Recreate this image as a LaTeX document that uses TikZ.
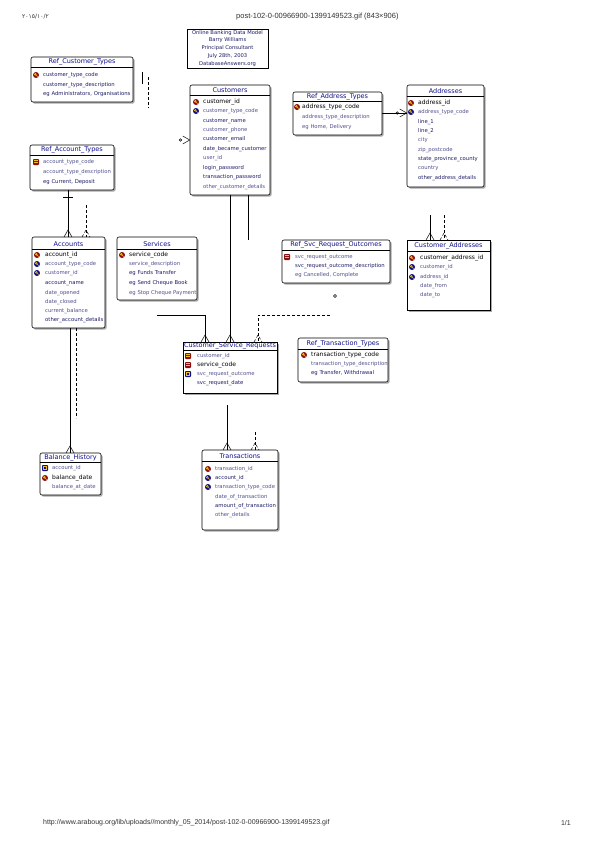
\documentclass[tikz,border=0pt]{standalone}
\usepackage{fontspec}
\setmainfont{Liberation Sans}
\newfontfamily\tabfont{DejaVu Sans}
\newfontfamily\arabicfont{DejaVu Sans}
\usetikzlibrary{fit,shadows}
\definecolor{ttlblue}{HTML}{10108A}
\definecolor{rownavy}{HTML}{1C1C66}
\definecolor{rowfaint}{HTML}{50508E}
\definecolor{pkred}{HTML}{8A1010}
\definecolor{fknavy}{HTML}{101080}
\definecolor{keyyel}{HTML}{F0C020}
\definecolor{shd}{HTML}{A8A8A8}
\definecolor{hdr}{HTML}{333333}
\tikzset{
 ent/.style={draw=black, line width=0.6pt, fill=white, inner sep=0pt, rounded corners=2pt,
   drop shadow={shadow xshift=1.6pt, shadow yshift=-1.6pt, fill=shd, opacity=1}},
 sqent/.style={ent, rounded corners=0pt, line width=0.8pt},
 ttl/.style={font=\tabfont\fontsize{6.5}{7}\selectfont, text=ttlblue, inner sep=0pt},
 pkrow/.style={font=\tabfont\fontsize{6}{7}\selectfont, text=black, anchor=west, inner sep=0pt},
 row/.style={font=\tabfont\fontsize{5.3}{6}\selectfont, text=rownavy, anchor=west, inner sep=0pt},
 frow/.style={row, text=rowfaint},
 sep/.style={draw=black, line width=0.4pt},
 conn/.style={draw=black, line width=0.5pt},
 dconn/.style={conn, dash pattern=on 3pt off 2pt},
 tbtext/.style={font=\tabfont\fontsize{5.2}{6}\selectfont, text=rownavy, inner sep=0pt},
}
\newcommand\pkic[2]{\fill[pkred] (#1,#2) circle (3);
  \draw[keyyel, line width=0.6pt] (#1-0.7,#2-0.7) circle (0.9) (#1-0.1,#2-0.1) -- (#1+1.6,#2+1.6);}
\newcommand\fkic[2]{\fill[fknavy] (#1,#2) circle (3);
  \draw[keyyel, line width=0.5pt] (#1-0.7,#2-0.7) circle (0.9) (#1-0.1,#2-0.1) -- (#1+1.6,#2+1.6);}
\newcommand\pfic[2]{\fill[pkred, rounded corners=0.8pt] (#1-3,#2-3) rectangle (#1+3,#2+3);
  \draw[keyyel, line width=0.5pt] (#1-2,#2-1.8) -- (#1+2,#2-1.8) (#1-2,#2+0.2) -- (#1+2,#2+0.2);}
\newcommand\fsqic[2]{\fill[fknavy, rounded corners=0.8pt] (#1-3,#2-3) rectangle (#1+3,#2+3);
  \draw[keyyel, line width=0.5pt] (#1-1.5,#2-1.5) rectangle (#1+1.5,#2+1.2);}
% crow's foot entering a box edge from above at (x,y)
\newcommand\crowtop[3][conn]{\draw[#1] (#2-4,#3) -- (#2,#3-7) -- (#2+4,#3);}
\begin{document}
\begin{tikzpicture}[x=1pt,y=-1pt]
\useasboundingbox (0,0) rectangle (596,843);
\fill[white] (0,0) rectangle (596,843);

% header and footer
\node[font=\arabicfont\fontsize{6}{7}\selectfont, text=hdr, anchor=west, inner sep=0pt] (date) at (22,17) {٢٠١٥/١٠/٢};
\node[font=\fontsize{7.5}{8}\selectfont, text=hdr, anchor=west, inner sep=0pt] (hdrt) at (236,17) {post-102-0-00966900-1399149523.gif (843×906)};
\node[font=\fontsize{7}{8}\selectfont, text=hdr, anchor=west, inner sep=0pt] (url) at (43,823) {http://www.araboug.org/lib/uploads//monthly\_05\_2014/post-102-0-00966900-1399149523.gif};
\node[font=\fontsize{7}{8}\selectfont, text=hdr, anchor=east, inner sep=0pt] (pg) at (571,823) {1/1};

% title box
\node[draw=black, line width=0.6pt, inner sep=0pt, fit={(187,29) (268,68)}] (tb) {};
\node[tbtext] (tb1) at (227.5,33) {Online Banking Data Model};
\node[tbtext] (tb2) at (227.5,40.5) {Barry Williams};
\node[tbtext] (tb3) at (227.5,48) {Principal Consultant};
\node[tbtext] (tb4) at (227.5,56) {July 28th, 2003};
\node[tbtext] (tb5) at (227.5,64) {DatabaseAnswers.org};

\coordinate (xa) at (68,0);
\coordinate (xb) at (86,0);
\coordinate (xc) at (230,0);
\coordinate (xd) at (248,0);
\coordinate (xe) at (430,0);
\coordinate (xf) at (444,0);
\coordinate (xi) at (227,0);
\coordinate (xj) at (255,0);
\coordinate (xk) at (70,0);
\coordinate (xl) at (76,0);

% ---------- entities ----------
% Ref_Customer_Types
\node[ent, fit={(31,57) (133,102)}] (rct) {};
\draw[sep] (rct.west |- 0,67) -- (rct.east |- 0,67);
\node[ttl] (rct-t) at (rct.center |- 0,62) {Ref\_Customer\_Types};
\pkic{36}{75}\node[row] (rct-1) at (43,75) {customer\_type\_code};
\node[row] (rct-2) at (43,85) {customer\_type\_description};
\node[row] (rct-3) at (43,94) {eg Administrators, Organisations};

% Customers
\node[ent, fit={(190,85) (270,195)}] (cust) {};
\draw[sep] (cust.west |- 0,95) -- (cust.east |- 0,95);
\node[ttl] (cust-t) at (cust.center |- 0,90) {Customers};
\pkic{196}{102}\node[pkrow] (cust-1) at (203,102) {customer\_id};
\fkic{196}{111}\node[frow] (cust-2) at (203,111) {customer\_type\_code};
\node[row] (cust-3) at (203,121) {customer\_name};
\node[frow] (cust-4) at (203,130) {customer\_phone};
\node[row] (cust-5) at (203,139) {customer\_email};
\node[row] (cust-6) at (203,149) {date\_became\_customer};
\node[frow] (cust-7) at (203,158) {user\_id};
\node[row] (cust-8) at (203,168) {login\_password};
\node[row] (cust-9) at (203,177) {transaction\_password};
\node[frow] (cust-10) at (203,187) {other\_customer\_details};

% Ref_Address_Types
\node[ent, fit={(293,92) (382,135)}] (rat) {};
\draw[sep] (rat.west |- 0,101.5) -- (rat.east |- 0,101.5);
\node[ttl] (rat-t) at (rat.center |- 0,97) {Ref\_Address\_Types};
\pkic{297}{107}\node[pkrow] (rat-1) at (302,107) {address\_type\_code};
\node[frow] (rat-2) at (302,117) {address\_type\_description};
\node[frow] (rat-3) at (302,127) {eg Home, Delivery};

% Addresses
\node[ent, fit={(407,85) (484,187)}] (addr) {};
\draw[sep] (addr.west |- 0,96) -- (addr.east |- 0,96);
\node[ttl] (addr-t) at (addr.center |- 0,91) {Addresses};
\pkic{411}{103}\node[pkrow] (addr-1) at (418,103) {address\_id};
\fkic{411}{112}\node[frow] (addr-2) at (418,112) {address\_type\_code};
\node[row] (addr-3) at (418,122) {line\_1};
\node[row] (addr-4) at (418,131) {line\_2};
\node[frow] (addr-5) at (418,140) {city};
\node[frow] (addr-6) at (418,150) {zip\_postcode};
\node[row] (addr-7) at (418,159) {state\_province\_county};
\node[frow] (addr-8) at (418,168) {country};
\node[row] (addr-9) at (418,178) {other\_address\_details};

% Ref_Account_Types
\node[ent, fit={(30,145) (114,190)}] (ratp) {};
\draw[sep] (ratp.west |- 0,155) -- (ratp.east |- 0,155);
\node[ttl] (ratp-t) at (ratp.center |- 0,150) {Ref\_Account\_Types};
\pfic{36}{162}\node[frow] (ratp-1) at (43,162) {account\_type\_code};
\node[frow] (ratp-2) at (43,172) {account\_type\_description};
\node[row] (ratp-3) at (43,182) {eg Current, Deposit};

% Accounts
\node[ent, fit={(32,237) (105,328)}] (acc) {};
\draw[sep] (acc.west |- 0,249) -- (acc.east |- 0,249);
\node[ttl] (acc-t) at (acc.center |- 0,244) {Accounts};
\pkic{37}{255}\node[pkrow] (acc-1) at (45,255) {account\_id};
\fkic{37}{264}\node[frow] (acc-2) at (45,264) {account\_type\_code};
\fkic{37}{273}\node[frow] (acc-3) at (45,273) {customer\_id};
\node[row] (acc-4) at (45,283) {account\_name};
\node[frow] (acc-5) at (45,293) {date\_opened};
\node[frow] (acc-6) at (45,302) {date\_closed};
\node[frow] (acc-7) at (45,311) {current\_balance};
\node[row] (acc-8) at (45,320) {other\_account\_details};

% Services
\node[ent, fit={(117,237) (197,300)}] (serv) {};
\draw[sep] (serv.west |- 0,249) -- (serv.east |- 0,249);
\node[ttl] (serv-t) at (serv.center |- 0,244) {Services};
\pkic{122}{255}\node[pkrow] (serv-1) at (129,255) {service\_code};
\node[frow] (serv-2) at (129,264) {service\_description};
\node[row] (serv-3) at (129,273) {eg Funds Transfer};
\node[row] (serv-4) at (129,283) {eg Send Cheque Book};
\node[frow] (serv-5) at (129,293) {eg Stop Cheque Payment};

% Ref_Svc_Request_Outcomes
\node[ent, fit={(282,240) (390,283)}] (rsro) {};
\draw[sep] (rsro.west |- 0,250) -- (rsro.east |- 0,250);
\node[ttl] (rsro-t) at (rsro.center |- 0,245) {Ref\_Svc\_Request\_Outcomes};
\pfic{287}{257}\node[frow] (rsro-1) at (295,257) {svc\_request\_outcome};
\node[row] (rsro-2) at (295,266) {svc\_request\_outcome\_description};
\node[frow] (rsro-3) at (295,275) {eg Cancelled, Complete};

% Customer_Addresses
\node[sqent, fit={(407,240) (490,310)}] (cad) {};
\draw[sep] (cad.west |- 0,251) -- (cad.east |- 0,251);
\node[ttl] (cad-t) at (cad.center |- 0,246) {Customer\_Addresses};
\pkic{412}{258}\node[pkrow] (cad-1) at (420,258) {customer\_address\_id};
\fkic{412}{267}\node[frow] (cad-2) at (420,267) {customer\_id};
\fkic{412}{277}\node[frow] (cad-3) at (420,277) {address\_id};
\node[frow] (cad-4) at (420,286) {date\_from};
\node[frow] (cad-5) at (420,295) {date\_to};

% Customer_Service_Requests
\node[sqent, fit={(183,342) (277,393)}] (csr) {};
\draw[sep] (csr.west |- 0,350) -- (csr.east |- 0,350);
\node[ttl] (csr-t) at (csr.center |- 0,345.5) {Customer\_Service\_Requests};
\pfic{188}{356}\node[frow] (csr-1) at (197,356) {customer\_id};
\pfic{188}{365}\node[pkrow] (csr-2) at (197,365) {service\_code};
\fsqic{188}{374}\node[frow] (csr-3) at (197,374) {svc\_request\_outcome};
\node[row] (csr-4) at (197,383) {svc\_request\_date};

% Ref_Transaction_Types
\node[ent, fit={(298,338) (388,382)}] (rtt) {};
\draw[sep] (rtt.west |- 0,349) -- (rtt.east |- 0,349);
\node[ttl] (rtt-t) at (rtt.center |- 0,344) {Ref\_Transaction\_Types};
\pkic{304}{355}\node[pkrow] (rtt-1) at (311,355) {transaction\_type\_code};
\node[frow] (rtt-2) at (311,364) {transaction\_type\_description};
\node[row] (rtt-3) at (311,373) {eg Transfer, Withdrawal};

% Balance_History
\node[ent, fit={(40,453) (101,495)}] (bh) {};
\draw[sep] (bh.west |- 0,462) -- (bh.east |- 0,462);
\node[ttl] (bh-t) at (bh.center |- 0,457.5) {Balance\_History};
\fsqic{45}{468}\node[frow] (bh-1) at (52,468) {account\_id};
\pkic{45}{478}\node[pkrow] (bh-2) at (52,478) {balance\_date};
\node[frow] (bh-3) at (52,487) {balance\_at\_date};

% Transactions
\node[ent, fit={(202,450) (278,530)}] (tr) {};
\draw[sep] (tr.west |- 0,461) -- (tr.east |- 0,461);
\node[ttl] (tr-t) at (tr.center |- 0,456) {Transactions};
\pkic{208}{469}\node[frow] (tr-1) at (215,469) {transaction\_id};
\fkic{208}{478}\node[row] (tr-2) at (215,478) {account\_id};
\fkic{208}{487}\node[frow] (tr-3) at (215,487) {transaction\_type\_code};
\node[frow] (tr-4) at (215,497) {date\_of\_transaction};
\node[row] (tr-5) at (215,506) {amount\_of\_transaction};
\node[frow] (tr-6) at (215,515) {other\_details};

% ---------- connectors ----------
% Ref_Customer_Types -> Customers
\coordinate (c1a) at (142,72); \coordinate (c1b) at (142,84);
\coordinate (c1c) at (148,77); \coordinate (c1d) at (148,108);
\draw[conn] (c1a) -- (c1b);
\draw[dconn] (c1c) -- (c1d);
\coordinate (cf1) at (183,140);
\draw[conn] (cust.west |- cf1) -- ++(-7,-4) (cust.west |- cf1) -- ++(-7,4);
\draw[conn] (cf1) ++(-2.5,0) circle (1.3);
% Ref_Account_Types -> Accounts
\draw[conn] (ratp.south -| xa) -- (acc.north -| xa);
\draw[conn] ([xshift=-5pt]ratp.south -| xa) ++(0,7) -- ++(10,0);
\crowtop{68}{237}
\coordinate (c2a) at (86,205);
\draw[dconn] (c2a) -- (acc.north -| xb);
\crowtop[dconn]{86}{237}
% Accounts -> Balance_History
\draw[conn] (acc.south -| xk) -- (bh.north -| xk);
\draw[dconn] (acc.south -| xl) -- ++(0,90);
\crowtop{70}{453}
% Customers -> CSR
\draw[conn] (cust.south -| xc) -- (csr.north -| xc);
\crowtop{230}{342}
\draw[conn] (cust.south -| xd) -- ++(0,45);
% Services -> CSR
\coordinate (c3a) at (157,315);
\coordinate (c3b) at (205,315);
\draw[conn] (c3a) -- (c3b) -- (csr.north -| c3b);
\crowtop{205}{342}
% Ref_Svc_Request_Outcomes -> CSR
\coordinate (c4o) at (335,296);
\draw[conn] (c4o) circle (1.5);
\coordinate (c4a) at (330,315);
\coordinate (c4b) at (258,315);
\draw[dconn] (c4a) -- (c4b) -- (csr.north -| c4b);
\crowtop[dconn]{258}{342}
% Ref_Address_Types -> Addresses
\coordinate (c5) at (395,113);
\draw[conn] (rat.east |- c5) -- (addr.west |- c5);
\draw[conn] (addr.west |- c5) -- ++(-7,-4) (addr.west |- c5) -- ++(-7,4);
\draw[conn] (addr.west |- c5) ++(-9.5,0) circle (1.3);
% Addresses / Customers -> Customer_Addresses
\coordinate (c6a) at (430,215);
\coordinate (c6b) at (444,215);
\draw[conn] (c6a) -- (cad.north -| xe);
\draw[dconn] (c6b) -- (cad.north -| xf);
\crowtop{430}{240}
\crowtop[dconn]{444}{240}
% Accounts / Ref_Transaction_Types -> Transactions
\coordinate (c7a) at (227,405);
\coordinate (c7b) at (255,432);
\draw[conn] (c7a) -- (tr.north -| xi);
\draw[dconn] (c7b) -- (tr.north -| xj);
\crowtop{227}{450}
\crowtop[dconn]{255}{450}
\end{tikzpicture}
\end{document}
